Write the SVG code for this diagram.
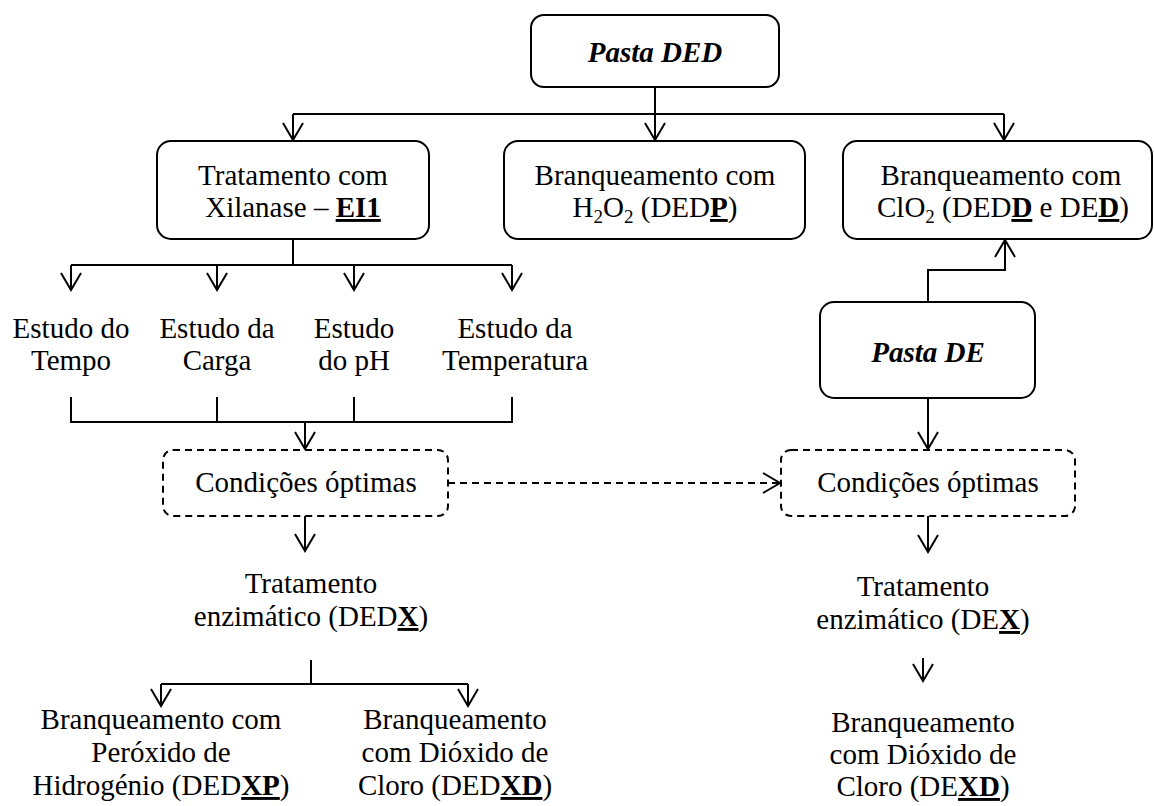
<svg xmlns="http://www.w3.org/2000/svg" width="1154" height="806" viewBox="0 0 1154 806">
<style>
text{font-family:"Liberation Serif","Times New Roman",serif;font-size:29px;fill:#000;text-anchor:middle}
.bi{font-weight:bold;font-style:italic}
.bu{font-weight:bold;text-decoration:underline}
.box{fill:#fff;stroke:#000;stroke-width:2}
.dbox{fill:#fff;stroke:#000;stroke-width:2;stroke-dasharray:7 5}
.ln{fill:none;stroke:#000;stroke-width:2}
.dl{fill:none;stroke:#000;stroke-width:2;stroke-dasharray:7 5}
</style>
<defs>
<marker id="arr" viewBox="-19 -11 21 22" refX="0" refY="0" markerWidth="21" markerHeight="22" markerUnits="userSpaceOnUse" orient="auto">
<path d="M-17,-10 L0,0 L-17,10" fill="none" stroke="#000" stroke-width="2"/>
</marker>
</defs>
<rect width="1154" height="806" fill="#fff"/>
<g id="connectors">
<path class="ln" d="M655,87 V114"/>
<path class="ln" d="M293,114 H1004"/>
<path class="ln" d="M293,114 V140" marker-end="url(#arr)"/>
<path class="ln" d="M655,114 V140" marker-end="url(#arr)"/>
<path class="ln" d="M1004,114 V140" marker-end="url(#arr)"/>
<path class="ln" d="M293,239 V265 M71,265 H512"/>
<path class="ln" d="M71,265 V290" marker-end="url(#arr)"/>
<path class="ln" d="M217,265 V290" marker-end="url(#arr)"/>
<path class="ln" d="M354,265 V290" marker-end="url(#arr)"/>
<path class="ln" d="M512,265 V290" marker-end="url(#arr)"/>
<path class="ln" d="M71,397 V422 H512 V397 M217,397 V422 M354,397 V422"/>
<path class="ln" d="M305,422 V449" marker-end="url(#arr)"/>
<path class="ln" d="M928,302 V270 H1005 V240" marker-end="url(#arr)"/>
<path class="ln" d="M928,398 V449" marker-end="url(#arr)"/>
<path class="dl" d="M448,483 H780" marker-end="url(#arr)"/>
<path class="ln" d="M305,516 V551" marker-end="url(#arr)"/>
<path class="ln" d="M928,516 V552" marker-end="url(#arr)"/>
<path class="ln" d="M311,660 V684 M161,684 H468"/>
<path class="ln" d="M161,684 V706" marker-end="url(#arr)"/>
<path class="ln" d="M468,684 V706" marker-end="url(#arr)"/>
<path class="ln" d="M923,658 V681" marker-end="url(#arr)"/>
</g>
<g id="pasta-ded">
<rect class="box" x="531" y="15" width="248" height="72" rx="13"/>
<text class="bi" x="655" y="62">Pasta DED</text>
</g>
<g id="tratamento-xilanase">
<rect class="box" x="157" y="141" width="272" height="98" rx="14"/>
<text x="293" y="185">Tratamento com</text>
<text x="293" y="217">Xilanase – <tspan class="bu">EI1</tspan></text>
</g>
<g id="branq-h2o2">
<rect class="box" x="504" y="141" width="301" height="98" rx="14"/>
<text x="655" y="185">Branqueamento com</text>
<text x="655" y="217">H<tspan font-size="19" dy="6">2</tspan><tspan dy="-6">O</tspan><tspan font-size="19" dy="6">2</tspan><tspan dy="-6"> (DED</tspan><tspan class="bu">P</tspan>)</text>
</g>
<g id="branq-clo2">
<rect class="box" x="843" y="141" width="309" height="98" rx="14"/>
<text x="1001" y="185">Branqueamento com</text>
<text x="1003" y="217">ClO<tspan font-size="19" dy="6">2</tspan><tspan dy="-6"> (DED</tspan><tspan class="bu">D</tspan> e DE<tspan class="bu">D</tspan>)</text>
</g>
<g id="estudo-tempo">
<text x="71" y="338">Estudo do</text>
<text x="71" y="370">Tempo</text>
</g>
<g id="estudo-carga">
<text x="217" y="338">Estudo da</text>
<text x="217" y="370">Carga</text>
</g>
<g id="estudo-ph">
<text x="354" y="338">Estudo</text>
<text x="354" y="370">do pH</text>
</g>
<g id="estudo-temperatura">
<text x="515" y="338">Estudo da</text>
<text x="515" y="370">Temperatura</text>
</g>
<g id="pasta-de">
<rect class="box" x="820" y="302" width="215" height="96" rx="14"/>
<text class="bi" x="928" y="362">Pasta DE</text>
</g>
<g id="condicoes-left">
<rect class="dbox" x="163" y="450" width="285" height="66" rx="10"/>
<text x="306" y="492">Condições óptimas</text>
</g>
<g id="condicoes-right">
<rect class="dbox" x="781" y="450" width="294" height="66" rx="10"/>
<text x="928" y="492">Condições óptimas</text>
</g>
<g id="tratamento-dedx">
<text x="311" y="593">Tratamento</text>
<text x="311" y="626">enzimático (DED<tspan class="bu">X</tspan>)</text>
</g>
<g id="tratamento-dex">
<text x="923" y="596">Tratamento</text>
<text x="923" y="629">enzimático (DE<tspan class="bu">X</tspan>)</text>
</g>
<g id="branq-dedxp">
<text x="161" y="729">Branqueamento com</text>
<text x="161" y="762">Peróxido de</text>
<text x="161" y="795">Hidrogénio (DED<tspan class="bu">XP</tspan>)</text>
</g>
<g id="branq-dedxd">
<text x="455" y="729">Branqueamento</text>
<text x="455" y="762">com Dióxido de</text>
<text x="455" y="795">Cloro (DED<tspan class="bu">XD</tspan>)</text>
</g>
<g id="branq-dexd">
<text x="923" y="732">Branqueamento</text>
<text x="923" y="764">com Dióxido de</text>
<text x="923" y="796">Cloro (DE<tspan class="bu">XD</tspan>)</text>
</g>
</svg>
